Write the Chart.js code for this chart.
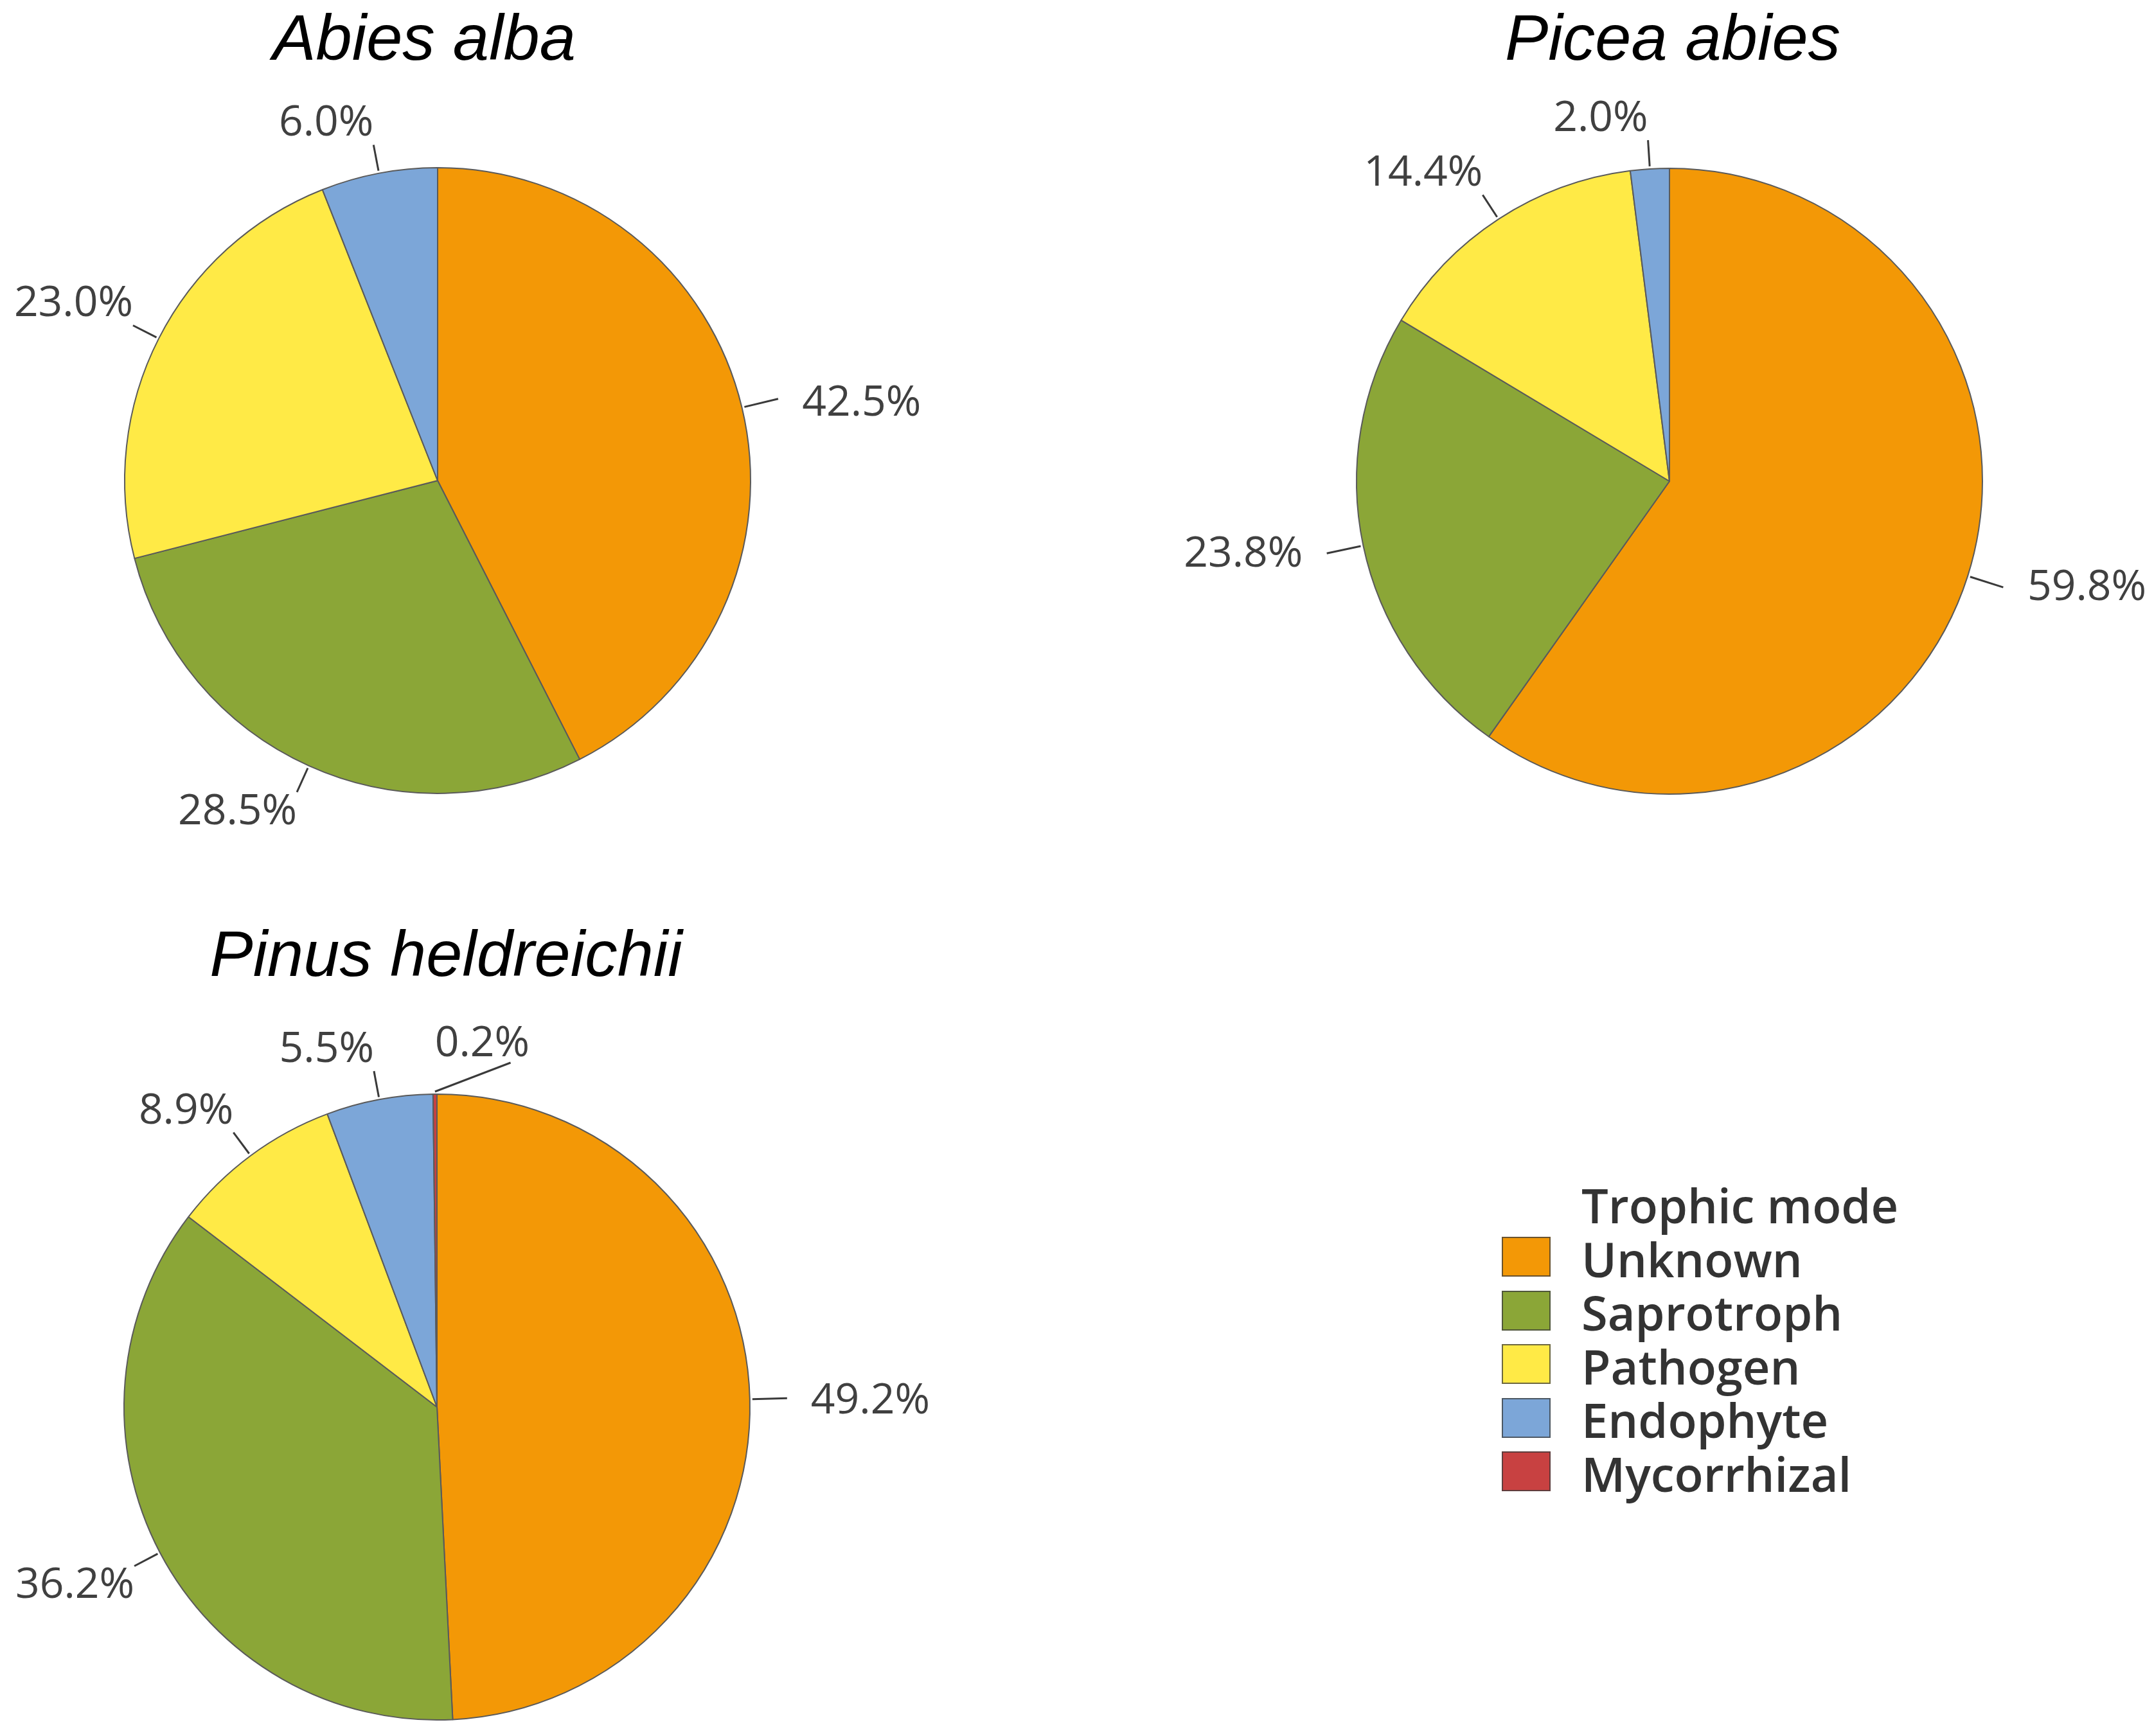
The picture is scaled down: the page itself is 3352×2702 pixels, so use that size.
<!DOCTYPE html>
<html>
<head>
<meta charset="utf-8">
<title>Trophic mode by host species</title>
<script src="https://cdn.jsdelivr.net/npm/chart.js@4.4.1/dist/chart.umd.min.js"></script>
<style>
  html, body { margin: 0; padding: 0; background: #fff; }
  body { width: 3352px; height: 2702px; position: relative; overflow: hidden; }
  canvas.pie { position: absolute; }
  .title {
    position: absolute;
    font-family: "Liberation Sans", Arial, sans-serif;
    font-style: italic;
    font-size: 101px;
    line-height: 101px;
    color: #000;
    white-space: nowrap;
    transform: translateX(-50%);
  }
  .legend {
    position: absolute;
    left: 2337px;
    top: 1834px;
    font-family: "Open Sans", sans-serif;
    font-weight: 600;
    font-size: 74px;
    line-height: 83.5px;
    color: #333;
    white-space: nowrap;
  }
  .legend-title { padding-left: 124px; height: 83.5px; }
  .legend-row { display: flex; align-items: center; height: 83.5px; }
  .swatch {
    width: 72px; height: 58px;
    border: 2px solid rgba(60,60,60,0.75);
    margin-right: 48px;
    margin-top: -6px;
  }
</style>
</head>
<body>
<script>
// ── data ─────────────────────────────────────────────────────────
var categories = ['Unknown', 'Saprotroph', 'Pathogen', 'Endophyte', 'Mycorrhizal'];
var speciesNames = ['Abies alba', 'Picea abies', 'Pinus heldreichii'];
var abiesAlba        = [42.5, 28.5, 23.0, 6.0, 0];
var piceaAbies       = [59.8, 23.8, 14.4, 2.0, 0];
var pinusHeldreichii = [49.2, 36.2, 8.9, 5.5, 0.2];
var legendTitle = 'Trophic mode';

// ── styles / layout ──────────────────────────────────────────────
var palette = ['#F39806', '#8BA637', '#FFEA46', '#7CA6D8', '#C84141'];
var LABEL_FONT = '66px "Open Sans", sans-serif';
var DIGIT_H = 47;   // visual height of the label digits

// box = canvas placement; cx/cy/r = where the pie sits on the page
var layout = [
  { box: {x: 0,    y: 150,  w: 1650, h: 1230}, cx: 681,  cy: 748,  r: 487, titleX: 660,  titleTop: 8 },
  { box: {x: 1700, y: 150,  w: 1652, h: 1230}, cx: 2598, cy: 749,  r: 487, titleX: 2603, titleTop: 8 },
  { box: {x: 0,    y: 1560, w: 1650, h: 1142}, cx: 680,  cy: 2190, r: 487, titleX: 694,  titleTop: 1434 }
];
var seriesList = [abiesAlba, piceaAbies, pinusHeldreichii];

function smoothstep(a, b, v) {
  var t = Math.min(1, Math.max(0, (v - a) / (b - a)));
  return t * t * (3 - 2 * t);
}

// Outside labels with a short leader line. The leader ends at an
// anchor just past the rim; the text hangs off that anchor by its
// near corner (or is centred beside it on the left/right flanks).
// A label that would collide with an earlier one flips sides.
var leaderLabels = {
  id: 'leaderLabels',
  afterDatasetsDraw: function(chart) {
    var ctx = chart.ctx;
    var meta = chart.getDatasetMeta(0);
    var vals = chart.data.datasets[0].data;
    var placed = [];
    ctx.save();
    ctx.font = LABEL_FONT;
    ctx.fillStyle = '#404040';
    ctx.strokeStyle = '#3a3a3a';
    ctx.lineWidth = 3;
    ctx.textAlign = 'left';
    ctx.textBaseline = 'alphabetic';

    meta.data.forEach(function(arc, i) {
      var p = arc.getProps(['x', 'y', 'startAngle', 'endAngle', 'outerRadius'], true);
      var a = (p.startAngle + p.endAngle) / 2;
      var dx = Math.cos(a), dy = Math.sin(a);
      var r = p.outerRadius;
      var txt = vals[i].toFixed(1) + '%';
      var w = ctx.measureText(txt).width, h = DIGIT_H;

      var t = smoothstep(0.9, 0.95, Math.abs(dx));   // 1 on the flanks
      var A = r + 45;
      var ax = p.x + dx * A, ay = p.y + dy * A;
      var onLeft = dx < 0;

      var x1 = onLeft ? ax - 50 * t - w : ax + 50 * t;
      var cornerTop = dy < 0 ? ay - 14 - h : ay + 3;
      var top = (1 - t) * cornerTop + t * (ay - h / 2);

      var hits = function(bx) {
        return placed.some(function(q) {
          return bx < q.x2 + 20 && bx + w > q.x1 - 20 && top < q.y2 && top + h > q.y1;
        });
      };
      var moved = false;
      if (hits(x1)) {
        x1 = onLeft ? ax : ax - w;
        moved = true;
      }
      placed.push({x1: x1, x2: x1 + w, y1: top, y2: top + h});

      var r0 = r + 4;
      ctx.beginPath();
      ctx.moveTo(p.x + dx * r0, p.y + dy * r0);
      if (moved) {
        ctx.lineTo(x1 + 0.8 * w, top + h + 10);
      } else {
        var r1 = r + 45 + 13 * t;
        ctx.lineTo(p.x + dx * r1, p.y + dy * r1);
      }
      ctx.stroke();

      ctx.fillText(txt, x1, top + h);
    });
    ctx.restore();
  }
};

function makePie(values, name, L) {
  // skip empty categories so no zero-width arcs are drawn
  var labels = [], data = [], colors = [];
  values.forEach(function(v, i) {
    if (v > 0) { labels.push(categories[i]); data.push(v); colors.push(palette[i]); }
  });

  var title = document.createElement('div');
  title.className = 'title';
  title.textContent = name;
  title.style.left = L.titleX + 'px';
  title.style.top = L.titleTop + 'px';
  document.body.appendChild(title);

  var canvas = document.createElement('canvas');
  canvas.className = 'pie';
  canvas.width = L.box.w;
  canvas.height = L.box.h;
  canvas.style.left = L.box.x + 'px';
  canvas.style.top = L.box.y + 'px';
  document.body.appendChild(canvas);

  var R = L.r + 1;   // Chart.js trims half the border width from the radius
  new Chart(canvas.getContext('2d'), {
    type: 'pie',
    data: {
      labels: labels,
      datasets: [{
        data: data,
        backgroundColor: colors,
        borderColor: '#5a5a5a',
        borderWidth: 2
      }]
    },
    options: {
      responsive: false,
      animation: false,
      devicePixelRatio: 1,
      layout: {
        padding: {
          left: L.cx - R - L.box.x,
          top: L.cy - R - L.box.y,
          right: L.box.x + L.box.w - (L.cx + R),
          bottom: L.box.y + L.box.h - (L.cy + R)
        }
      },
      plugins: {
        legend: { display: false },
        tooltip: { enabled: false }
      }
    },
    plugins: [leaderLabels]
  });
}

seriesList.forEach(function(s, i) { makePie(s, speciesNames[i], layout[i]); });

// legend built from the same category / palette arrays
(function() {
  var lg = document.createElement('div');
  lg.className = 'legend';
  var t = document.createElement('div');
  t.className = 'legend-title';
  t.textContent = legendTitle;
  lg.appendChild(t);
  categories.forEach(function(c, i) {
    var row = document.createElement('div');
    row.className = 'legend-row';
    var sw = document.createElement('div');
    sw.className = 'swatch';
    sw.style.background = palette[i];
    var lab = document.createElement('span');
    lab.textContent = c;
    row.appendChild(sw);
    row.appendChild(lab);
    lg.appendChild(row);
  });
  document.body.appendChild(lg);
})();
</script>
</body>
</html>
